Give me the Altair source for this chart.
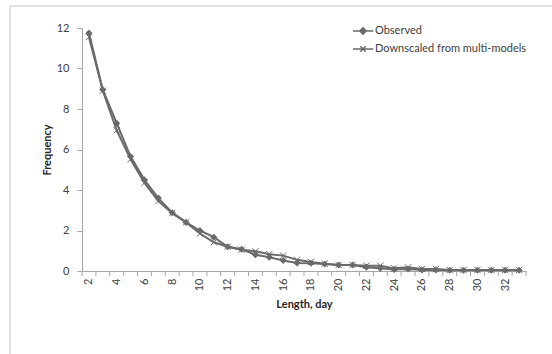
import altair as alt
import pandas as pd

# Spell lengths (days) and their frequencies
lengths = list(range(2, 34))
observed = [11.75, 8.95, 7.3, 5.65, 4.5, 3.6, 2.88, 2.4, 2.0, 1.67, 1.2, 1.07,
            0.8, 0.68, 0.52, 0.4, 0.38, 0.35, 0.3, 0.3, 0.19, 0.14, 0.08, 0.1,
            0.05, 0.05, 0.04, 0.04, 0.04, 0.04, 0.04, 0.04]
downscaled = [11.55, 8.9, 6.95, 5.52, 4.35, 3.45, 2.86, 2.4, 1.85, 1.42, 1.2, 1.05,
              0.97, 0.83, 0.76, 0.55, 0.45, 0.36, 0.3, 0.3, 0.26, 0.26, 0.13, 0.18,
              0.1, 0.1, 0.05, 0.05, 0.05, 0.05, 0.05, 0.05]
series_names = ["Observed", "Downscaled from multi-models"]

y_ticks = [0, 2, 4, 6, 8, 10, 12]
x_labels = list(range(2, 33, 2))
x_bounds = [n + 0.5 for n in range(1, 34)]  # category boundaries 1.5 .. 33.5

GRAY = "#6a6a6a"
AXIS_GRAY = "#a6a6a6"
FONT = "Lato"

df = pd.DataFrame({
    "length": lengths * 2,
    "freq": observed + downscaled,
    "series": [series_names[0]] * len(lengths) + [series_names[1]] * len(lengths),
})
bounds_df = pd.DataFrame({"bound": x_bounds})

W, H = 444, 243

x_scale = alt.Scale(domain=[1.5, 33.5], nice=False, zero=False)
y_scale = alt.Scale(domain=[0, 12], nice=False)
x_axis = alt.Axis(
    title="Length, day", values=x_labels, format="d",
    labelAngle=270, labelFlush=False, labelOverlap=False,
    ticks=False, labelPadding=7, grid=False,
    titleFontWeight="bold", titleY=33, titleBaseline="middle",
)
y_axis = alt.Axis(
    title="Frequency", values=y_ticks, tickSize=5, grid=False,
    labelPadding=8, titleFontWeight="bold", titleX=-35,
    titleBaseline="middle", labelOverlap=False,
)
x_enc = alt.X("length:Q", scale=x_scale, axis=x_axis)
y_enc = alt.Y("freq:Q", scale=y_scale, axis=y_axis)

# Legend glyphs: a short line segment with the series marker on it
legend_shapes = [
    "M-1.15,0L1.15,0M0,-0.36L0.36,0L0,0.36L-0.36,0ZM0,-0.2L0.2,0L0,0.2L-0.2,0Z"
    "M0,-0.08L0.08,0L0,0.08L-0.08,0Z",
    "M-1.15,0L1.15,0M-0.3,-0.3L0.3,0.3M-0.3,0.3L0.3,-0.3",
]

lines = alt.Chart(df).mark_line(strokeWidth=2, color=GRAY).encode(
    x=x_enc,
    y=y_enc,
    detail="series:N",
)

# Category-boundary tick marks under the x axis
x_ticks = alt.Chart(bounds_df).mark_rule(color=AXIS_GRAY, strokeWidth=1).encode(
    x=alt.X("bound:Q", scale=x_scale, axis=x_axis),
    y=alt.value(H), y2=alt.value(H + 5),
)

legend_layer = alt.Chart(df).transform_filter("false").mark_point(
    filled=False, color=GRAY, strokeWidth=1.5, opacity=1
).encode(
    x=x_enc,
    y=y_enc,
    shape=alt.Shape(
        "series:N",
        scale=alt.Scale(domain=series_names, range=legend_shapes),
        sort=series_names,
        legend=alt.Legend(
            title=None, orient="none", legendX=271, legendY=-6,
            symbolSize=324, symbolStrokeWidth=1.5, symbolStrokeColor=GRAY,
            symbolFillColor=GRAY, symbolOpacity=1, labelFontSize=11,
            labelColor="#404040", labelFont=FONT, rowPadding=0, labelOffset=2,
            clipHeight=18,
        ),
    ),
)

obs_points = alt.Chart(df).transform_filter(
    alt.datum.series == series_names[0]
).mark_point(shape="diamond", filled=True, size=50, color=GRAY, opacity=1).encode(
    x=x_enc, y=y_enc
)

ds_points = alt.Chart(df).transform_filter(
    alt.datum.series == series_names[1]
).mark_point(
    shape="M-1,-1L1,1M-1,1L1,-1", filled=False, size=40, stroke=GRAY,
    strokeWidth=1, opacity=1
).encode(x=x_enc, y=y_enc)

# Thin frame around the chart area (top and left edges)
frame_top = alt.Chart().mark_rule(color="#d9d9d9", strokeWidth=1.5).encode(
    x=alt.value(-72), x2=alt.value(W + 40), y=alt.value(-22)
)
frame_left = alt.Chart().mark_rule(color="#d9d9d9", strokeWidth=1.5).encode(
    x=alt.value(-72), y=alt.value(-22), y2=alt.value(H + 100)
)

chart = alt.layer(
    frame_top, frame_left, lines, x_ticks, obs_points, ds_points, legend_layer
).properties(
    width=W, height=H,
    autosize=alt.AutoSizeParams(type="none"),
    padding={"left": 82, "top": 28, "right": 26, "bottom": 83},
    background="white",
).configure_view(stroke=None).configure_axis(
    domainColor=AXIS_GRAY, tickColor=AXIS_GRAY, labelColor="#404040",
    labelFontSize=11, labelFont=FONT, titleFont=FONT, titleFontSize=11,
    titleColor="#262626", labelOverlap=False,
)

chart.save("out.html", embed_options={"renderer": "svg", "actions": False})
